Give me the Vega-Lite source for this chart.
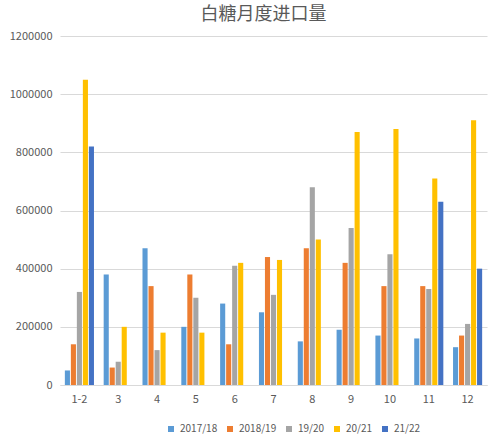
{
  "$schema": "https://vega.github.io/schema/vega-lite/v6.json",
  "width": 427,
  "height": 349,
  "autosize": {"type": "none"},
  "padding": {"left": 60, "top": 36, "right": 13, "bottom": 54},
  "background": "white",
  "config": {
    "view": {"stroke": null},
    "font": "Noto Sans CJK SC",
    "axis": {
      "labelFont": "Noto Sans CJK SC",
      "labelColor": "#595959",
      "labelFontSize": 11,
      "ticks": false,
      "title": null
    }
  },
  "title": {
    "text": "白糖月度进口量",
    "font": "Noto Sans CJK SC",
    "fontSize": 18,
    "fontWeight": "normal",
    "color": "#595959",
    "anchor": "middle",
    "frame": "group",
    "dx": -10,
    "offset": 6
  },
  "data": {
    "values": [
      {"month": "1-2", "season": "2017/18", "value": 50000},
      {"month": "1-2", "season": "2018/19", "value": 140000},
      {"month": "1-2", "season": "19/20", "value": 320000},
      {"month": "1-2", "season": "20/21", "value": 1050000},
      {"month": "1-2", "season": "21/22", "value": 820000},
      {"month": "3", "season": "2017/18", "value": 380000},
      {"month": "3", "season": "2018/19", "value": 60000},
      {"month": "3", "season": "19/20", "value": 80000},
      {"month": "3", "season": "20/21", "value": 200000},
      {"month": "4", "season": "2017/18", "value": 470000},
      {"month": "4", "season": "2018/19", "value": 340000},
      {"month": "4", "season": "19/20", "value": 120000},
      {"month": "4", "season": "20/21", "value": 180000},
      {"month": "5", "season": "2017/18", "value": 200000},
      {"month": "5", "season": "2018/19", "value": 380000},
      {"month": "5", "season": "19/20", "value": 300000},
      {"month": "5", "season": "20/21", "value": 180000},
      {"month": "6", "season": "2017/18", "value": 280000},
      {"month": "6", "season": "2018/19", "value": 140000},
      {"month": "6", "season": "19/20", "value": 410000},
      {"month": "6", "season": "20/21", "value": 420000},
      {"month": "7", "season": "2017/18", "value": 250000},
      {"month": "7", "season": "2018/19", "value": 440000},
      {"month": "7", "season": "19/20", "value": 310000},
      {"month": "7", "season": "20/21", "value": 430000},
      {"month": "8", "season": "2017/18", "value": 150000},
      {"month": "8", "season": "2018/19", "value": 470000},
      {"month": "8", "season": "19/20", "value": 680000},
      {"month": "8", "season": "20/21", "value": 500000},
      {"month": "9", "season": "2017/18", "value": 190000},
      {"month": "9", "season": "2018/19", "value": 420000},
      {"month": "9", "season": "19/20", "value": 540000},
      {"month": "9", "season": "20/21", "value": 870000},
      {"month": "10", "season": "2017/18", "value": 170000},
      {"month": "10", "season": "2018/19", "value": 340000},
      {"month": "10", "season": "19/20", "value": 450000},
      {"month": "10", "season": "20/21", "value": 880000},
      {"month": "11", "season": "2017/18", "value": 160000},
      {"month": "11", "season": "2018/19", "value": 340000},
      {"month": "11", "season": "19/20", "value": 330000},
      {"month": "11", "season": "20/21", "value": 710000},
      {"month": "11", "season": "21/22", "value": 630000},
      {"month": "12", "season": "2017/18", "value": 130000},
      {"month": "12", "season": "2018/19", "value": 170000},
      {"month": "12", "season": "19/20", "value": 210000},
      {"month": "12", "season": "20/21", "value": 910000},
      {"month": "12", "season": "21/22", "value": 400000}
    ]
  },
  "mark": {"type": "bar"},
  "encoding": {
    "x": {
      "field": "month",
      "type": "nominal",
      "sort": ["1-2", "3", "4", "5", "6", "7", "8", "9", "10", "11", "12"],
      "scale": {"paddingInner": 0.25, "paddingOuter": 0.125},
      "axis": {
        "labelAngle": 0,
        "labelPadding": 8,
        "domainColor": "#D9D9D9",
        "domainWidth": 1
      }
    },
    "xOffset": {
      "field": "season",
      "type": "nominal",
      "sort": ["2017/18", "2018/19", "19/20", "20/21", "21/22"],
      "scale": {
        "domain": ["2017/18", "2018/19", "19/20", "20/21", "21/22"],
        "paddingInner": 0.15,
        "paddingOuter": 0
      }
    },
    "y": {
      "field": "value",
      "type": "quantitative",
      "scale": {"domain": [0, 1200000], "nice": false},
      "axis": {
        "values": [0, 200000, 400000, 600000, 800000, 1000000, 1200000],
        "format": "d",
        "domain": false,
        "gridColor": "#D9D9D9",
        "gridWidth": 1,
        "labelPadding": 8
      }
    },
    "color": {
      "field": "season",
      "type": "nominal",
      "scale": {
        "domain": ["2017/18", "2018/19", "19/20", "20/21", "21/22"],
        "range": ["#5B9BD5", "#ED7D31", "#A5A5A5", "#FFC000", "#4472C4"]
      },
      "legend": {
        "title": null,
        "orient": "none",
        "direction": "horizontal",
        "legendX": 106,
        "legendY": 388,
        "symbolType": "square",
        "symbolSize": 36,
        "symbolStrokeWidth": 0,
        "labelFont": "Noto Sans CJK SC",
        "labelFontSize": 10,
        "labelColor": "#595959",
        "labelOffset": 4,
        "columnPadding": 7
      }
    }
  }
}
